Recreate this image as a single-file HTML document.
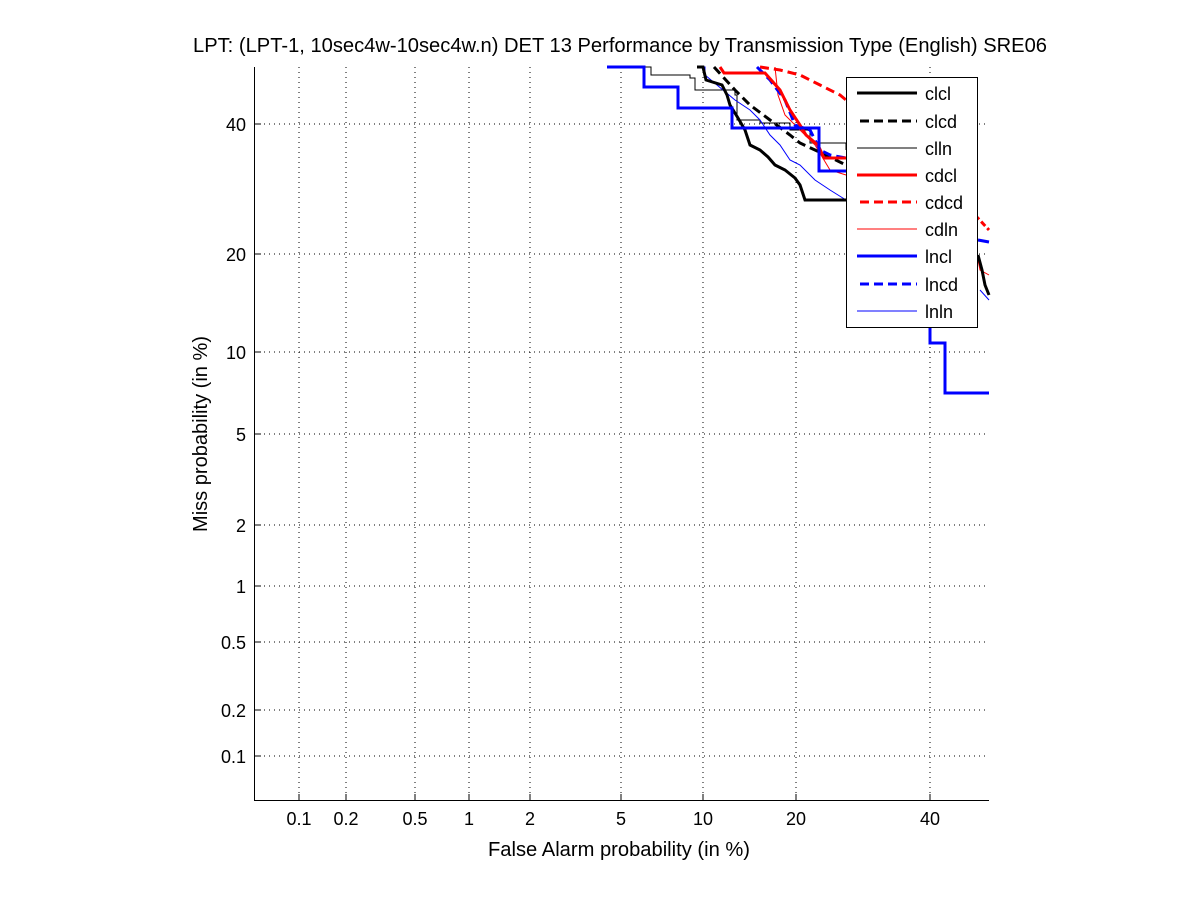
<!DOCTYPE html>
<html><head><style>body{margin:0;background:#fff}</style></head><body>
<svg width="1201" height="900" xmlns="http://www.w3.org/2000/svg" font-family="Liberation Sans, sans-serif">
<rect width="1201" height="900" fill="#fff"/>
<g stroke="#000" stroke-width="1" stroke-dasharray="1,4">
<line x1="299" y1="67" x2="299" y2="801"/><line x1="346" y1="67" x2="346" y2="801"/><line x1="415" y1="67" x2="415" y2="801"/><line x1="469" y1="67" x2="469" y2="801"/><line x1="530" y1="67" x2="530" y2="801"/><line x1="621" y1="67" x2="621" y2="801"/><line x1="703" y1="67" x2="703" y2="801"/><line x1="796" y1="67" x2="796" y2="801"/><line x1="930" y1="67" x2="930" y2="801"/>
<line x1="254" y1="124" x2="989" y2="124"/><line x1="254" y1="254" x2="989" y2="254"/><line x1="254" y1="352" x2="989" y2="352"/><line x1="254" y1="434" x2="989" y2="434"/><line x1="254" y1="525" x2="989" y2="525"/><line x1="254" y1="586" x2="989" y2="586"/><line x1="254" y1="642" x2="989" y2="642"/><line x1="254" y1="710" x2="989" y2="710"/><line x1="254" y1="756" x2="989" y2="756"/>
</g>
<g stroke="#000" stroke-width="1">
<line x1="254.5" y1="67" x2="254.5" y2="801"/><line x1="254" y1="800.5" x2="989" y2="800.5"/>
<line x1="299" y1="801" x2="299" y2="794"/><line x1="346" y1="801" x2="346" y2="794"/><line x1="415" y1="801" x2="415" y2="794"/><line x1="469" y1="801" x2="469" y2="794"/><line x1="530" y1="801" x2="530" y2="794"/><line x1="621" y1="801" x2="621" y2="794"/><line x1="703" y1="801" x2="703" y2="794"/><line x1="796" y1="801" x2="796" y2="794"/><line x1="930" y1="801" x2="930" y2="794"/>
<line x1="254" y1="124" x2="261" y2="124"/><line x1="254" y1="254" x2="261" y2="254"/><line x1="254" y1="352" x2="261" y2="352"/><line x1="254" y1="434" x2="261" y2="434"/><line x1="254" y1="525" x2="261" y2="525"/><line x1="254" y1="586" x2="261" y2="586"/><line x1="254" y1="642" x2="261" y2="642"/><line x1="254" y1="710" x2="261" y2="710"/><line x1="254" y1="756" x2="261" y2="756"/>
</g>
<g fill="none" stroke-linejoin="miter">
<polyline stroke="#000" stroke-width="1" points="640,67 651,67 651,75 690,75 690,78 695,78 695,90 735,90 735,95 737,95 737,120 760,120 760,123 790,123 790,130 810,130 810,143 846,143 846,150"/>
<polyline stroke="#00f" stroke-width="1" points="700,67 705,67 705,75 735,100 750,110 760,120 770,135 780,145 790,160 800,165 815,180 830,190 846,200"/>
<polyline stroke="#f00" stroke-width="1" points="775,67 778,95 785,115 800,130 815,145 830,170 846,175"/>
<polyline stroke="#000" stroke-width="3" stroke-dasharray="9,5" points="714,67 735,90 750,105 770,120 790,135 800,143 815,150 846,165"/>
<polyline stroke="#f00" stroke-width="3" stroke-dasharray="9,5" points="760,67 780,70 800,75 820,85 840,95 846,100"/>
<polyline stroke="#00f" stroke-width="3" stroke-dasharray="9,5" points="757,67 770,80 785,100 795,125 810,130 820,150 830,155 846,158"/>
<polyline stroke="#f00" stroke-width="3" points="720,67 724,73 765,73 780,90 790,110 800,125 806,135 818,145 824,158 846,158"/>
<polyline stroke="#000" stroke-width="3" points="697,67 703,67 706,80 722,85 727,95 730,105 738,118 745,130 750,145 760,150 768,157 775,165 785,170 795,178 800,185 805,200 846,200"/>
<polyline stroke="#00f" stroke-width="3" points="607,67 644,67 644,87 678,87 678,108 732,108 732,128 819,128 819,171 930,171 930,343 945,343 945,393 989,393"/>
<polyline stroke="#f00" stroke-width="3" stroke-dasharray="6,3" points="975,215 989,230"/>
<polyline stroke="#f00" stroke-width="1" points="977,255 980,270 989,275"/>
<polyline stroke="#00f" stroke-width="3" points="978,240 989,242"/>
<polyline stroke="#000" stroke-width="3" points="978,255 982,270 985,285 989,295"/>
<polyline stroke="#00f" stroke-width="1" points="980,290 989,300"/>
</g>
<rect x="846.5" y="77.5" width="131" height="250" fill="#fff" stroke="#000"/>
<g fill="none">
<line x1="857" y1="93" x2="917" y2="93" stroke="#000" stroke-width="3"/>
<line x1="860" y1="121" x2="917" y2="121" stroke="#000" stroke-width="3" stroke-dasharray="9,5"/>
<line x1="857" y1="148" x2="917" y2="148" stroke="#000" stroke-width="1"/>
<line x1="857" y1="175" x2="917" y2="175" stroke="#f00" stroke-width="3"/>
<line x1="860" y1="202" x2="917" y2="202" stroke="#f00" stroke-width="3" stroke-dasharray="9,5"/>
<line x1="857" y1="229" x2="917" y2="229" stroke="#f00" stroke-width="1"/>
<line x1="857" y1="256" x2="917" y2="256" stroke="#00f" stroke-width="3"/>
<line x1="860" y1="284" x2="917" y2="284" stroke="#00f" stroke-width="3" stroke-dasharray="9,5"/>
<line x1="857" y1="311" x2="917" y2="311" stroke="#00f" stroke-width="1"/>
</g>
<g font-size="18" fill="#000">
<text x="925" y="100">clcl</text><text x="925" y="128">clcd</text><text x="925" y="155">clln</text><text x="925" y="182">cdcl</text><text x="925" y="209">cdcd</text><text x="925" y="236">cdln</text><text x="925" y="263">lncl</text><text x="925" y="291">lncd</text><text x="925" y="318">lnln</text>
</g>
<g font-size="18" fill="#000" text-anchor="middle">
<text x="299" y="825">0.1</text><text x="346" y="825">0.2</text><text x="415" y="825">0.5</text><text x="469" y="825">1</text><text x="530" y="825">2</text><text x="621" y="825">5</text><text x="703" y="825">10</text><text x="796" y="825">20</text><text x="930" y="825">40</text>
</g>
<g font-size="20" fill="#000" text-anchor="middle">
<text x="619" y="856" textLength="262" lengthAdjust="spacingAndGlyphs">False Alarm probability (in %)</text>
<text x="620" y="52" textLength="854" lengthAdjust="spacingAndGlyphs">LPT: (LPT-1, 10sec4w-10sec4w.n) DET 13 Performance by Transmission Type (English) SRE06</text>
</g>
<g font-size="18" fill="#000" text-anchor="end">
<text x="246" y="131">40</text><text x="246" y="261">20</text><text x="246" y="359">10</text><text x="246" y="441">5</text><text x="246" y="532">2</text><text x="246" y="593">1</text><text x="246" y="649">0.5</text><text x="246" y="717">0.2</text><text x="246" y="763">0.1</text>
</g>
<text transform="translate(207,434) rotate(-90)" font-size="20" text-anchor="middle" textLength="196" lengthAdjust="spacingAndGlyphs">Miss probability (in %)</text>
</svg>
</body></html>
